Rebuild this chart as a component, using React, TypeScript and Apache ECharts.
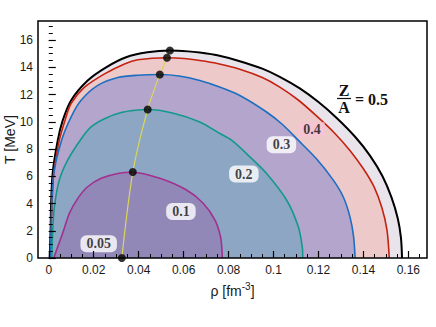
import React, { useEffect, useRef } from 'react';
import * as echarts from 'echarts';

// Z/A = 0.5 (black)
const rho05 = [0.0004, 0.0008, 0.001, 0.0017, 0.004, 0.0062, 0.0099, 0.0173, 0.0255, 0.0344, 0.0439, 0.0539, 0.062, 0.0672, 0.075, 0.085, 0.095, 0.1028, 0.1117, 0.12, 0.128, 0.1363, 0.143, 0.1485, 0.1525, 0.1553, 0.1567, 0.1572];
const T05 = [0, 2, 3.8, 6.2, 8.65, 10.1, 11.57, 13.03, 14.0, 14.74, 15.1, 15.23, 15.17, 15.08, 14.88, 14.45, 13.9, 13.3, 12.45, 11.45, 10.3, 8.9, 7.5, 6.0, 4.45, 2.9, 1.5, 0];
// Z/A = 0.4 (red)
const rho04 = [0.0006, 0.001, 0.0014, 0.0022, 0.0047, 0.0072, 0.0099, 0.0159, 0.0248, 0.0337, 0.0396, 0.0526, 0.06, 0.0672, 0.075, 0.085, 0.095, 0.1028, 0.111, 0.119, 0.127, 0.134, 0.14, 0.1448, 0.1482, 0.1505, 0.1515];
const T04 = [0, 2, 3.8, 6.2, 8.65, 10.1, 11.33, 12.54, 13.52, 14.25, 14.55, 14.7, 14.65, 14.5, 14.28, 13.86, 13.25, 12.55, 11.6, 10.45, 9.2, 7.9, 6.55, 5.2, 3.7, 2.05, 0];
// Z/A = 0.3 (blue)
const rho03 = [0.0008, 0.0013, 0.0022, 0.0057, 0.0099, 0.0143, 0.0218, 0.0307, 0.0396, 0.0494, 0.058, 0.0672, 0.076, 0.085, 0.0969, 0.104, 0.111, 0.119, 0.1266, 0.131, 0.134, 0.1356, 0.1363];
const T03 = [0, 3.77, 6.2, 8.65, 10.35, 11.57, 12.67, 13.25, 13.42, 13.47, 13.36, 13.03, 12.55, 11.93, 10.72, 9.8, 8.65, 7.3, 5.72, 4.5, 3.04, 1.6, 0];
// Z/A = 0.2 (teal)
const rho02 = [0.0014, 0.0017, 0.0025, 0.0047, 0.0084, 0.014, 0.0188, 0.0248, 0.0322, 0.0396, 0.044, 0.055, 0.0672, 0.0761, 0.0813, 0.089, 0.0969, 0.1058, 0.111, 0.1128, 0.113];
const T02 = [0, 1.83, 3.77, 5.72, 7.18, 8.65, 9.62, 10.23, 10.68, 10.86, 10.9, 10.65, 9.99, 9.14, 8.65, 7.5, 6.21, 4.26, 2.31, 0.8, 0];
// Z/A = 0.1 (purple)
const rho01 = [0.0022, 0.0035, 0.0062, 0.0092, 0.0129, 0.0173, 0.0233, 0.0307, 0.0374, 0.0494, 0.0613, 0.0687, 0.0739, 0.0764, 0.0771, 0.0772];
const T01 = [0, 0.6, 1.83, 3.29, 4.38, 5.23, 5.85, 6.21, 6.3, 5.85, 4.99, 4.02, 2.8, 1.58, 0.5, 0];

// critical points
const critRho = [0.0325, 0.0374, 0.044, 0.0494, 0.0526, 0.0539];
const critT = [0, 6.31, 10.9, 13.47, 14.7, 15.23];

// curve labels
const labelText = ['0.05', '0.1', '0.2', '0.3', '0.4'];
const labelRho = [0.0222, 0.0588, 0.0868, 0.1035, 0.1171];
const labelT = [1.05, 3.42, 6.16, 8.32, 9.42];

const xMajor = [0, 0.02, 0.04, 0.06, 0.08, 0.1, 0.12, 0.14, 0.16];
const yMajor = [0, 2, 4, 6, 8, 10, 12, 14, 16];
const xMinor = Array.from({ length: 34 }, (_, i) => +(i * 0.005).toFixed(3));
const yMinor = Array.from({ length: 35 }, (_, i) => i * 0.5);

const X_MIN = -0.0048;
const X_MAX = 0.1683;
const Y_MIN = 0;
const Y_MAX = 17.4;

const zip = (a: number[], b: number[]) => a.map((v, i) => [v, b[i]]);

const curves = [
  { rho: rho05, T: T05, line: '#000000', fill: '#e9e4ec', w: 2 },
  { rho: rho04, T: T04, line: '#c4210f', fill: '#eec9ca', w: 1.6 },
  { rho: rho03, T: T03, line: '#1c6fc0', fill: '#b3a5cc', w: 1.6 },
  { rho: rho02, T: T02, line: '#13998c', fill: '#8ca6c3', w: 1.6 },
  { rho: rho01, T: T01, line: '#a3308e', fill: '#9188b8', w: 1.6 },
];

const SANS = '"Liberation Sans", Arial, sans-serif';
const SERIF = '"Liberation Serif", "Times New Roman", serif';

const GRID = { left: 38, right: 9, top: 21, bottom: 69, containLabel: false, outerBoundsMode: 'none' };

export default function App() {
  const ref = useRef<HTMLDivElement>(null);
  useEffect(() => {
    const chart = echarts.init(ref.current!, null, { renderer: 'svg' });
    const series: any[] = curves.map((c) => ({
      type: 'line',
      xAxisIndex: 0,
      yAxisIndex: 0,
      data: zip(c.rho, c.T),
      smooth: 0.3,
      symbol: 'none',
      lineStyle: { color: c.line, width: c.w },
      areaStyle: { color: c.fill, opacity: 1 },
      z: 2,
    }));
    series.push({
      type: 'line',
      data: zip(critRho, critT),
      smooth: 0.3,
      symbol: 'none',
      lineStyle: { color: '#d9d65a', width: 1.2 },
      z: 3,
    });
    series.push({
      type: 'scatter',
      data: zip(critRho, critT),
      symbol: 'circle',
      symbolSize: 8,
      itemStyle: { color: '#000' },
      z: 4,
    });
    series.push({
      type: 'scatter',
      data: labelText.map((t, i) => ({
        value: [labelRho[i], labelT[i]],
        label: t === '0.4'
          ? { backgroundColor: '#f7c3d3', borderRadius: 0, padding: [1, 4, 0, 4] }
          : {},
      })),
      symbolSize: 0,
      z: 5,
      label: {
        show: true,
        position: 'inside',
        formatter: (p: any) => labelText[p.dataIndex],
        fontFamily: SERIF,
        fontWeight: 'bold',
        fontSize: 14,
        color: '#111',
        backgroundColor: '#ffffff',
        borderRadius: 6,
        padding: [2, 6, 1, 6],
      },
    });

    chart.setOption({
      animation: false,
      grid: [
        { ...GRID, show: false },
        { ...GRID, show: true, borderColor: '#000', borderWidth: 1.5, backgroundColor: 'transparent', z: 10 },
      ],
      xAxis: [
        {
          type: 'value', gridIndex: 0, min: X_MIN, max: X_MAX, z: 10,
          axisLine: { show: false }, splitLine: { show: false },
          axisTick: { show: true, inside: true, length: 7, customValues: xMajor, lineStyle: { color: '#000', width: 1.2 } },
          axisLabel: {
            show: true, customValues: xMajor, margin: 6, fontFamily: SANS, fontSize: 12, color: '#1a1a1a',
            formatter: (v: number) => (v === 0 ? '0' : String(+v.toFixed(2))),
          },
          name: '{a|ρ [fm}{s|-3}{a|]}', nameLocation: 'middle', nameGap: 23, nameMoveOverlap: false,
          nameTextStyle: {
            rich: {
              a: { fontFamily: SANS, fontSize: 14, color: '#1a1a1a' },
              s: { fontFamily: SANS, fontSize: 10, color: '#1a1a1a', padding: [0, 0, 10, 0] },
            },
          },
        },
        {
          type: 'value', gridIndex: 1, min: X_MIN, max: X_MAX, z: 10,
          axisLine: { show: false }, splitLine: { show: false },
          axisTick: { show: true, inside: true, length: 4, customValues: xMinor, lineStyle: { color: '#000', width: 1 } },
          axisLabel: { show: false },
        },
      ],
      yAxis: [
        {
          type: 'value', gridIndex: 0, min: Y_MIN, max: Y_MAX, z: 10,
          axisLine: { show: false }, splitLine: { show: false },
          axisTick: { show: true, inside: true, length: 7, customValues: yMajor, lineStyle: { color: '#000', width: 1.2 } },
          axisLabel: { show: true, customValues: yMajor, margin: 5, fontFamily: SANS, fontSize: 12, color: '#1a1a1a' },
          name: 'T [MeV]', nameLocation: 'middle', nameGap: 21, nameRotate: 90, nameMoveOverlap: false,
          nameTextStyle: { fontFamily: SANS, fontSize: 14, color: '#1a1a1a' },
        },
        {
          type: 'value', gridIndex: 1, min: Y_MIN, max: Y_MAX, z: 10,
          axisLine: { show: false }, splitLine: { show: false },
          axisTick: { show: true, inside: true, length: 4, customValues: yMinor, lineStyle: { color: '#000', width: 1 } },
          axisLabel: { show: false },
        },
      ],
      graphic: [
        {
          type: 'group', z: 20,
          children: [
            { type: 'text', x: 344, y: 90, style: { text: 'Z', font: `bold 16px ${SERIF}`, fill: '#111', align: 'center', verticalAlign: 'middle' } },
            { type: 'line', shape: { x1: 337, y1: 98.5, x2: 351, y2: 98.5 }, style: { stroke: '#111', lineWidth: 1.2 } },
            { type: 'text', x: 344, y: 107.5, style: { text: 'A', font: `bold 16px ${SERIF}`, fill: '#111', align: 'center', verticalAlign: 'middle' } },
            { type: 'text', x: 355, y: 99.5, style: { text: '= 0.5', font: `bold 16px ${SERIF}`, fill: '#111', align: 'left', verticalAlign: 'middle' } },
          ],
        },
      ],
      series,
    });
    return () => chart.dispose();
  }, []);
  return <div ref={ref} style={{ position: 'absolute', left: 0, top: 0, width: 436, height: 327 }} />;
}
